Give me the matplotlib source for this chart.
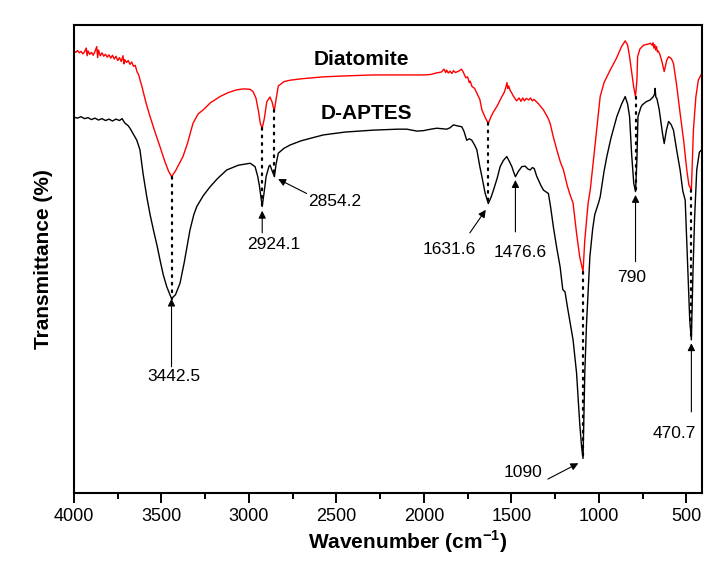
import matplotlib
matplotlib.use("Agg")
import matplotlib.pyplot as plt

plt.rcParams['font.family'] = ['Liberation Sans', 'DejaVu Sans']
plt.rcParams['mathtext.fontset'] = 'custom'
plt.rcParams['mathtext.rm'] = 'Liberation Sans'
plt.rcParams['mathtext.bf'] = 'Liberation Sans:bold'

# Diatomite spectrum (wavenumber, transmittance, arbitrary units)
dia_wn = [4000, 3990, 3980, 3970, 3960, 3950, 3940, 3930, 3925, 3920, 3910, 3900,
          3890, 3880, 3870, 3865, 3860, 3850, 3840, 3830, 3820, 3810, 3800, 3790,
          3780, 3770, 3760, 3750, 3740, 3730, 3720, 3715, 3710, 3700, 3690, 3680,
          3670, 3660, 3650, 3640, 3630, 3620, 3613, 3590, 3565,
          3535, 3508, 3480, 3460, 3442.5, 3420, 3400, 3377, 3350, 3320, 3290, 3262,
          3220, 3165, 3120, 3070, 3030, 2993, 2976, 2960, 2945, 2935, 2924.1, 2912,
          2898, 2880, 2868, 2860, 2854.2, 2845, 2832, 2800, 2765, 2700, 2575, 2450,
          2290, 2150, 2078, 2000, 1960, 1930, 1900, 1885, 1875, 1870, 1860, 1850,
          1840, 1830, 1820, 1800, 1785, 1775, 1760, 1750, 1740, 1735, 1725, 1710,
          1697, 1680, 1668, 1650, 1631.6, 1615, 1602, 1580, 1554, 1540, 1530, 1525,
          1520, 1515, 1507, 1500, 1490, 1470, 1455, 1445, 1435, 1425, 1415, 1400,
          1390, 1380, 1370, 1345, 1316, 1290, 1278, 1260, 1240, 1220, 1202, 1180,
          1163, 1147, 1127, 1109, 1090, 1080, 1061, 1049, 1030, 1010, 992, 970, 935,
          900, 870, 849, 835, 824, 815, 800, 790, 782, 778, 765, 744, 720, 706, 695,
          690, 685, 680, 675, 670, 665, 660, 650, 639, 626, 612, 601, 585, 573, 555,
          535, 515, 497, 485, 470.7, 459, 445, 431, 420, 412]
dia_t = [94.6, 94.3, 94.7, 94.2, 94.5, 94.0, 94.4, 95.2, 93.6, 94.6, 93.9, 94.3,
         93.7, 94.5, 95.5, 93.2, 94.8, 93.6, 94.2, 93.5, 93.9, 93.3, 93.8, 93.1,
         93.7, 92.9, 93.5, 92.6, 93.2, 92.4, 93.6, 91.9, 92.8, 92.2, 92.6, 91.8,
         92.3, 91.4, 91.6, 90.3, 89.6, 88.2, 87.4, 84.0, 80.9,
         77.5, 74.6, 71.5, 69.6, 68.4, 69.6, 71.0, 72.6, 75.5, 79.5, 81.5, 82.3,
         83.8, 85.1, 85.9, 86.5, 86.7, 86.6, 86.1, 84.8, 82.0, 79.5, 78.5, 80.5,
         84.0, 85.0, 84.0, 82.8, 82.3, 84.5, 87.3, 88.2, 88.5, 88.8, 89.2, 89.4,
         89.6, 89.6, 89.6, 89.6, 89.7, 90.0, 90.2, 90.8, 90.1, 90.6, 90.0, 90.4,
         89.9, 90.5, 90.1, 90.4, 90.8, 90.2, 89.0, 89.2, 88.0, 88.3, 87.2, 86.8,
         85.8, 84.5, 82.3, 80.8, 79.5, 81.0, 81.9, 83.2, 85.1, 86.0, 87.2, 88.0,
         86.8, 87.3, 86.4, 86.0, 85.3, 84.2, 84.8, 84.1, 84.8, 84.2, 84.7, 84.4,
         84.8, 84.2, 84.5, 83.6, 82.3, 80.6, 79.5, 76.7, 74.0, 71.5, 69.8, 66.5,
         64.5, 62.9, 56.6, 51.7, 48.6, 55.2, 62.9, 65.6, 72.0, 79.0, 85.1, 88.0, 90.6,
         93.0, 95.5, 96.7, 95.8, 93.4, 91.0, 87.0, 85.1, 88.5, 93.4, 95.0, 95.8, 96.0,
         96.2, 95.8, 96.3, 95.2, 95.9, 94.8, 95.5, 94.4, 94.6, 93.8, 92.4, 90.3, 92.6,
         93.4, 93.0, 92.0, 87.5, 81.6, 76.0, 69.8, 66.7, 65.6, 78.1, 85.0, 88.5,
         89.3, 89.9]

# D-APTES spectrum
apt_wn = [4000, 3980, 3960, 3940, 3920, 3900, 3880, 3860, 3840, 3820, 3800, 3780,
          3760, 3740, 3725, 3710, 3690, 3680, 3660, 3641, 3623, 3605, 3584, 3565,
          3546, 3525, 3508, 3490, 3470, 3442.5, 3420, 3394, 3370, 3337, 3315, 3298,
          3260, 3222, 3180, 3127, 3060, 2993, 2965, 2950, 2940, 2924.1, 2910, 2902,
          2885, 2879, 2866, 2854.2, 2845, 2832, 2800, 2765, 2700, 2575, 2450, 2290,
          2150, 2097, 2040, 2002, 1960, 1926, 1869, 1850, 1831, 1810, 1783, 1770,
          1755, 1740, 1726, 1710, 1697, 1680, 1668, 1650, 1631.6, 1615, 1602, 1580,
          1564, 1545, 1526, 1510, 1497, 1485, 1476.6, 1460, 1440, 1421, 1405, 1392,
          1380, 1369, 1355, 1345, 1330, 1316, 1300, 1288, 1275, 1259, 1240, 1221,
          1206, 1193, 1178, 1163, 1147, 1127, 1109, 1098, 1090, 1080, 1070, 1051,
          1035, 1023, 1001, 992, 970, 954, 930, 897, 870, 849, 835, 824, 812, 800,
          790, 782, 776, 760, 753, 730, 706, 690, 682, 678, 674, 668, 655, 649, 636,
          626, 614, 601, 587, 573, 555, 535, 520, 506, 492, 480, 470.7, 462, 452,
          440, 425, 412]
apt_t = [80.8, 80.6, 80.9, 80.5, 80.7, 80.3, 80.6, 80.2, 80.5, 80.1, 80.4, 80.0,
         80.4, 80.1, 80.5, 79.6, 79.0, 78.5, 77.2, 76.0, 74.0, 69.0, 64.2, 60.5,
         57.3, 54.0, 51.0, 48.0, 45.5, 43.0, 43.8, 46.2, 50.5, 57.3, 60.5, 62.2,
         64.5, 66.3, 68.0, 69.8, 70.8, 71.2, 70.5, 68.5, 66.5, 62.2, 66.0, 68.4,
         70.6, 70.8, 69.5, 68.4, 71.0, 73.3, 74.3, 75.0, 75.9, 77.1, 77.7, 78.1,
         78.3, 78.3, 77.9, 78.0, 78.3, 78.5, 78.3, 78.6, 79.2, 79.0, 78.8, 77.8,
         76.0, 76.3, 76.0, 75.0, 74.0, 70.5, 68.4, 65.0, 62.8, 64.2, 65.6, 68.2,
         70.5, 71.8, 72.6, 71.5, 70.5, 69.2, 68.4, 69.5, 70.5, 70.6, 70.0, 69.8,
         70.3, 70.1, 68.5, 67.7, 66.5, 65.6, 65.2, 64.9, 62.0, 57.8, 53.5, 49.6,
         44.9, 44.4, 41.0, 37.8, 34.4, 27.5, 17.0, 12.0, 9.7, 27.5, 37.8, 51.7,
         57.5, 60.5, 63.0, 64.2, 69.5, 72.6, 76.5, 80.9, 83.5, 85.1, 83.5, 80.9,
         73.0, 67.0, 65.3, 72.0, 80.9, 82.8, 83.3, 84.0, 84.4, 85.0, 85.5, 86.8,
         85.0, 84.7, 82.5, 80.9, 77.5, 75.3, 78.0, 79.9, 79.3, 78.1, 74.0, 69.8,
         65.5, 63.5, 50.0, 38.5, 34.4, 48.0, 60.0, 69.8, 73.5, 74.0]

# marked bands: position, diatomite minimum, D-APTES minimum (None = no guide line)
band_pos = [3442.5, 2924.1, 2854.2, 1631.6, 1476.6, 1090, 790, 470.7]
band_dia = [68.4, 78.5, 82.3, 79.5, None, 48.6, 85.1, 65.6]
band_apt = [43.0, 62.2, 68.4, 62.8, 68.4, 9.7, 65.3, 34.4]
band_lab = ['3442.5', '2924.1', '2854.2', '1631.6', '1476.6', '1090', '790', '470.7']

fig = plt.figure(figsize=(7.15, 5.61), dpi=100)
ax = fig.add_axes([0.1035, 0.1212, 0.8783, 0.8342])

ax.plot(dia_wn, dia_t, color='#ff0000', lw=1.0)
ax.plot(apt_wn, apt_t, color='black', lw=1.0)

# dotted guides between the two spectra
for pos, top, bot in zip(band_pos, band_dia, band_apt):
    if top is None:
        continue
    ax.plot([pos, pos], [top, bot], color='black', lw=1.6,
            linestyle=(0, (0.8, 2.6)), dash_capstyle='round')

# arrow tail, arrow tip and label centre for each band
layout = {
    '3442.5': ((3442.5, 28.8), (3442.5, 43.0), (3430, 26.7)),
    '2924.1': ((2924.1, 56.7), (2924.1, 61.3), (2857, 54.2)),
    '2854.2': ((2670, 64.9), (2833, 67.9), (2509, 63.2)),
    '1631.6': ((1737, 56.7), (1646, 61.5), (1857, 53.3)),
    '1476.6': ((1476.6, 56.9), (1476.6, 67.7), (1451, 52.6)),
    '1090': ((1291, 5.4), (1117, 8.7), (1434, 6.7)),
    '790': ((790, 50.7), (790, 64.6), (811, 47.5)),
    '470.7': ((470.7, 19.4), (470.7, 33.7), (566, 14.9)),
}
for lab in band_lab:
    tail, tip, txt = layout[lab]
    ax.annotate('', xy=tip, xytext=tail,
                arrowprops=dict(arrowstyle='-|>', color='black', lw=0.8,
                                mutation_scale=11, shrinkA=0, shrinkB=0))
    ax.text(txt[0], txt[1], lab, ha='center', va='center', fontsize=12.5)

ax.text(2357, 92.9, 'Diatomite', ha='center', va='center', fontsize=15, fontweight='bold')
ax.text(2326, 81.5, 'D-APTES', ha='center', va='center', fontsize=15, fontweight='bold')

ax.set_xlim(4000, 410)
ax.set_ylim(2.5, 100)
ax.set_xticks([4000, 3500, 3000, 2500, 2000, 1500, 1000, 500])
ax.set_xticks([3750, 3250, 2750, 2250, 1750, 1250, 750], minor=True)
ax.set_yticks([])
ax.tick_params(axis='x', which='major', direction='out', length=7, width=1.4,
               labelsize=13, pad=4, top=False)
ax.tick_params(axis='x', which='minor', direction='out', length=4.5, width=1.4, top=False)
for sp in ax.spines.values():
    sp.set_linewidth(1.5)

ax.set_xlabel(r'Wavenumber (cm$^{\mathbf{-1}}$)', fontsize=15, fontweight='bold')
ax.xaxis.set_label_coords(0.532, -0.075)
ax.set_ylabel('Transmittance (%)', fontsize=15, fontweight='bold')
ax.yaxis.set_label_coords(-0.034, 0.5)

fig.savefig('out.png', dpi=100)
